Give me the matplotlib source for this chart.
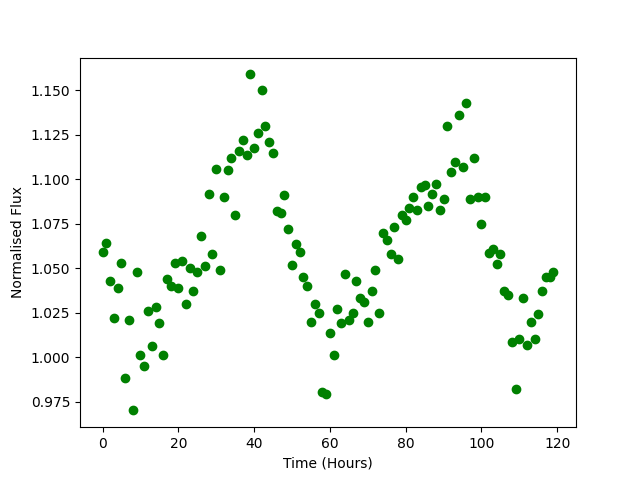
import numpy as np
import matplotlib
matplotlib.use("Agg")
import matplotlib.pyplot as plt

hours = np.arange(120)
flux = [
    1.059, 1.064, 1.043, 1.022, 1.039, 1.053, 0.988, 1.021, 0.970, 1.048,
    1.001, 0.995, 1.026, 1.006, 1.028, 1.019, 1.001, 1.044, 1.040, 1.053,
    1.039, 1.054, 1.030, 1.050, 1.037, 1.048, 1.068, 1.051, 1.0915, 1.058,
    1.106, 1.049, 1.090, 1.105, 1.112, 1.080, 1.116, 1.122, 1.1135, 1.159,
    1.1175, 1.126, 1.150, 1.130, 1.121, 1.115, 1.082, 1.081, 1.091, 1.072,
    1.052, 1.0635, 1.059, 1.045, 1.040, 1.020, 1.030, 1.025, 0.9805, 0.979,
    1.0136, 1.001, 1.027, 1.019, 1.0465, 1.021, 1.025, 1.0426, 1.033, 1.031,
    1.020, 1.037, 1.049, 1.025, 1.070, 1.066, 1.058, 1.073, 1.055, 1.080,
    1.077, 1.084, 1.090, 1.0825, 1.0955, 1.097, 1.085, 1.0915, 1.0975, 1.0825,
    1.089, 1.130, 1.104, 1.110, 1.136, 1.107, 1.143, 1.0887, 1.112, 1.090,
    1.0746, 1.090, 1.0588, 1.061, 1.0526, 1.058, 1.037, 1.035, 1.0087, 0.982,
    1.010, 1.033, 1.007, 1.020, 1.010, 1.024, 1.037, 1.045, 1.045, 1.048,
]

fig, ax = plt.subplots(figsize=(6.4, 4.8), dpi=100)
ax.plot(hours, flux, 'o', color='green')
ax.set_xlabel('Time (Hours)')
ax.set_ylabel('Normalised Flux')
fig.savefig('out.png')
